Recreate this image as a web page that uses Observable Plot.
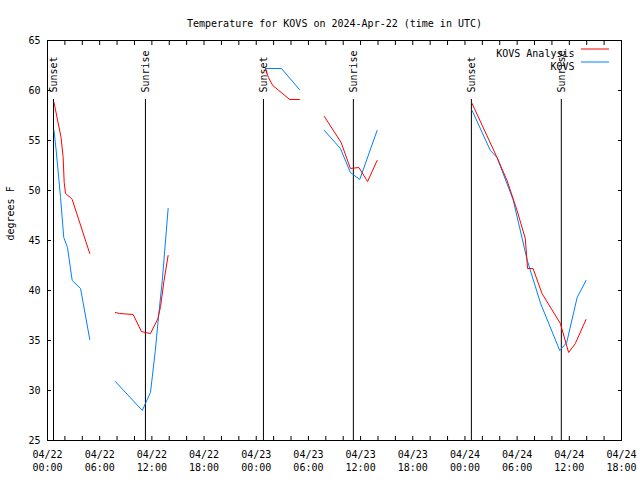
<!DOCTYPE html>
<html><head><meta charset="utf-8">
<script src="https://cdn.jsdelivr.net/npm/d3@7"></script>
<script src="https://cdn.jsdelivr.net/npm/@observablehq/plot@0.6"></script>
<style>body{margin:0;background:#fff}#chart{width:640px;height:480px}</style>
</head><body><div id="chart"></div>
<script>
// Hours since 2024-04-22 00:00 UTC
const analysisHours = [0.75,1.56,1.8,1.92,2.07,2.64,2.84,4.86,
  7.8,8.3,9.85,10.8,11.26,11.84,12.7,13.0,13.4,13.87,
  25.06,25.4,25.9,26.6,27.85,28.97,
  31.84,33.76,34.83,35.8,36.8,37.9,
  48.82,51.69,52.84,53.99,54.94,55.2,55.83,56.86,58.97,59.92,60.69,61.92];
const analysisTemps = [58.8,55.3,53.3,50.8,49.7,49.3,49.1,43.7,
  37.8,37.7,37.6,35.9,35.8,35.7,37.2,38.4,41,43.5,
  62.2,61.3,60.5,60,59.1,59.1,
  57.4,54.8,52.2,52.3,50.9,53,
  58.7,53.3,51,48,45.2,42.2,42.2,39.7,36.7,33.8,34.7,37.1];
const analysisSeg = [1,1,1,1,1,1,1,1, 2,2,2,2,2,2,2,2,2,2, 3,3,3,3,3,3, 4,4,4,4,4,4, 5,5,5,5,5,5,5,5,5,5,5,5];

const obsHours = [0.75,1.0,1.5,1.87,2.3,2.84,3.8,4.86,
  7.8,10.9,11.26,11.84,12.0,12.4,12.8,13.2,13.87,
  25.06,26.9,28.97,
  31.84,33.68,34.83,35.9,37.9,
  48.82,50.92,51.69,53.53,55.17,56.7,58.9,59.7,60.9,61.92];
const obsTemps = [56,54,49.3,45.3,44.3,41,40.2,35.1,
  30.9,28,28.7,29.8,31,34,37.7,41,48.2,
  62.2,62.2,60.1,
  56,54.2,51.8,51.1,56,
  58,54,53.3,49.1,43,38.7,34,34.8,39.3,41];
const obsSeg = [1,1,1,1,1,1,1,1, 2,2,2,2,2,2,2,2,2, 3,3,3, 4,4,4,4,4, 5,5,5,5,5,5,5,5,5,5];

const sunHours = [0.69, 11.26, 24.83, 35.17, 48.74, 59.08];
const sunLabels = ["Sunset","Sunrise","Sunset","Sunrise","Sunset","Sunrise"];

const yTicks = [25,30,35,40,45,50,55,60,65];
const seriesNames = ["KOVS Analysis","KOVS"];
const seriesColors = ["#ff0000","#0080ff"];
const titleText = "Temperature for KOVS on 2024-Apr-22 (time in UTC)";
const yLabel = "degrees F";

const base = Date.UTC(2024,3,22);
const toDate = h => new Date(base + h*3600e3);
const rows = (hs, ts, ss) => hs.map((h,i)=>({t:toDate(h), v:ts[i], s:ss[i]}));
const analysis = rows(analysisHours, analysisTemps, analysisSeg);
const obs = rows(obsHours, obsTemps, obsSeg);
const sun = sunHours.map((h,i)=>({t:toDate(h), label:sunLabels[i]}));
const start = toDate(0), end = toDate(66);
const minorTicks = d3.utcHour.every(2).range(start, new Date(+end+1));
const majorTicks = d3.utcHour.every(6).range(start, new Date(+end+1));
const fmt = d3.utcFormat("%m/%d\n%H:%M");

const font = "'DejaVu Sans Mono', monospace";
const plot = Plot.plot({
  width:640, height:480, marginLeft:47, marginRight:19, marginTop:40, marginBottom:40,
  style:{fontFamily:font, fontSize:"10px", color:"#000", background:"#fff"},
  x:{type:"utc", domain:[start, end]},
  y:{domain:[25,65]},
  marks:[
    Plot.ruleX(sun, {x:"t", y1:25, y2:59.1, stroke:"#000", strokeWidth:1}),
    Plot.text(sun, {x:"t", y:59.8, text:"label", rotate:-90, textAnchor:"start", lineAnchor:"middle", fill:"#000"}),
    Plot.line(obs, {x:"t", y:"v", z:"s", stroke:seriesColors[1], strokeWidth:1}),
    Plot.line(analysis, {x:"t", y:"v", z:"s", stroke:seriesColors[0], strokeWidth:1}),
    Plot.frame({stroke:"#000"}),
    Plot.axisX({ticks:minorTicks, tickSize:-4, tickFormat:()=>"", label:null}),
    Plot.axisX({anchor:"top", ticks:minorTicks, tickSize:-4, tickFormat:()=>"", label:null}),
    Plot.axisX({ticks:majorTicks, tickSize:0, tickPadding:8, tickFormat:fmt, label:null, lineHeight:1.3}),
    Plot.axisY({ticks:yTicks, tickSize:-4, tickFormat:()=>"", label:null}),
    Plot.axisY({anchor:"right", ticks:yTicks, tickSize:-4, tickFormat:()=>"", label:null}),
    Plot.axisY({ticks:yTicks, tickSize:0, tickPadding:7, label:null}),
    Plot.text([yLabel], {frameAnchor:"left", dx:-37, rotate:-90, fill:"#000"}),
    Plot.text([titleText], {frameAnchor:"top", dy:-21, fill:"#000"}),
    Plot.text([seriesNames[0]], {frameAnchor:"top-right", dx:-47, dy:9, textAnchor:"end", fill:"#000"}),
    Plot.text([seriesNames[1]], {frameAnchor:"top-right", dx:-47, dy:22, textAnchor:"end", fill:"#000"})
  ]
});
document.getElementById("chart").appendChild(plot);
// legend swatches
const svg = d3.select(plot);
seriesColors.forEach((c,i)=>{
  svg.append("line").attr("x1",581).attr("x2",609)
    .attr("y1",49+13*i).attr("y2",49+13*i)
    .attr("stroke",c).attr("stroke-width",1);
});
</script></body></html>
